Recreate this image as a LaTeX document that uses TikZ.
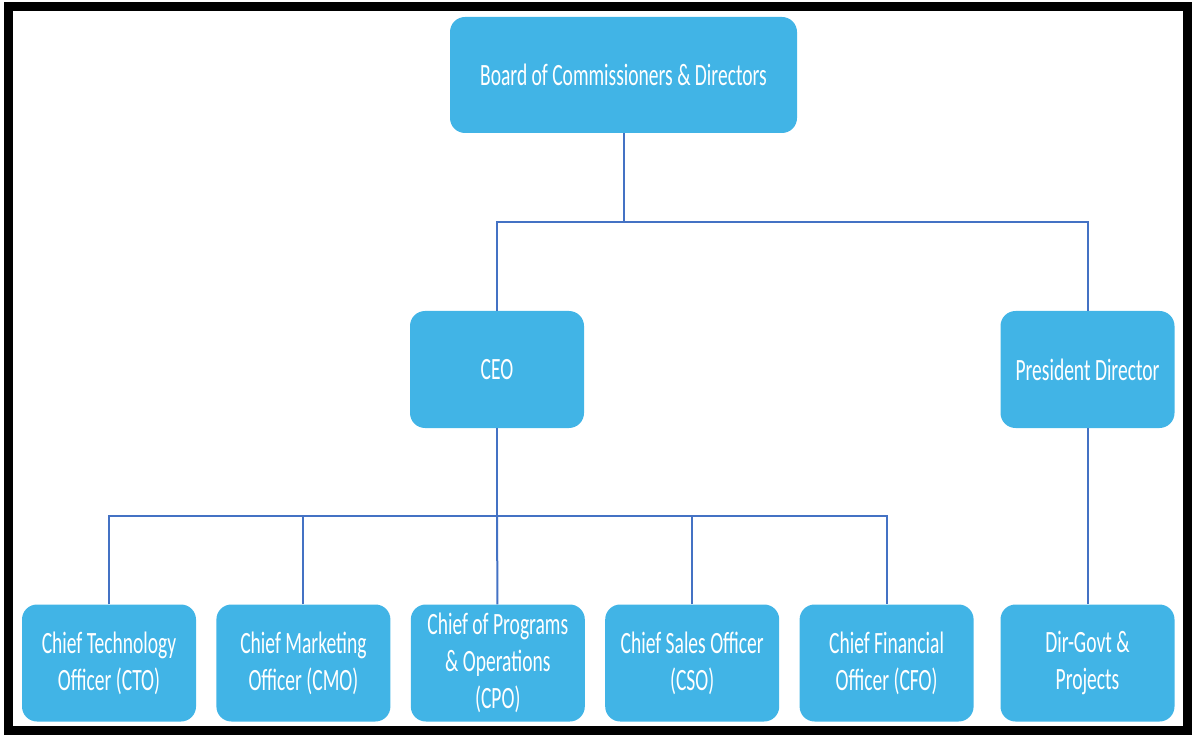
\documentclass[tikz,border=0pt]{standalone}
\usepackage{fontspec}
\newfontfamily\orgfont[FakeStretch=0.63]{Carlito}
\usetikzlibrary{positioning}
\definecolor{boxblue}{RGB}{65,180,230}
\definecolor{lineblue}{RGB}{68,114,196}

\begin{document}
\begin{tikzpicture}[x=1pt,y=-1pt,node distance=20pt,
                    role node/.style={rectangle, rounded corners=15pt, fill=boxblue, text=white,
                      minimum width=174pt, minimum height=117pt, align=center,
                      font=\orgfont\fontsize{31}{37}\selectfont},
                    link/.style={draw=lineblue, line width=2pt}]

  \useasboundingbox (0,0) rectangle (1192,735);
  \draw[line width=9pt] (8,7) rectangle (1187.5,730);

  %Top%
  \node[role node, minimum width=347pt, minimum height=116pt] (board) at (623.5,75) {Board of Commissioners \& Directors};

  %Middle%
  \node[role node] (ceo) at (497,369.5) {CEO};
  \node[role node] (pres) at (1087.5,369.5) {President Director};

  %Bottom%
  \node[role node] (cto) at (109,663) {Chief Technology\\Officer (CTO)};
  \node[role node] (cmo) [right=of cto] {Chief Marketing\\Officer (CMO)};
  \node[role node] (cpo) [right=of cmo] {Chief of Programs\\\& Operations\\(CPO)};
  \node[role node] (cso) [right=of cpo] {Chief Sales Officer\\(CSO)};
  \node[role node] (cfo) [right=of cso] {Chief Financial\\Officer (CFO)};
  \node[role node] (dir) at (pres |- cto) {Dir-Govt \&\\Projects};

  %Links%
  \coordinate (topbar) at (623.5,222);
  \coordinate (ceobar) at (497,516);
  \draw[link] (board) -- (topbar);
  \draw[link] (ceo) |- (topbar) -| (pres);
  \draw[link] (ceo) -- (ceobar);
  \draw[link] (cto) |- (ceobar) -| (cfo);
  \draw[link] (cmo) -- (cmo |- ceobar);
  \draw[link] (cpo) -- (ceobar);
  \draw[link] (cso) -- (cso |- ceobar);
  \draw[link] (pres) -- (dir);
\end{tikzpicture}
\end{document}
